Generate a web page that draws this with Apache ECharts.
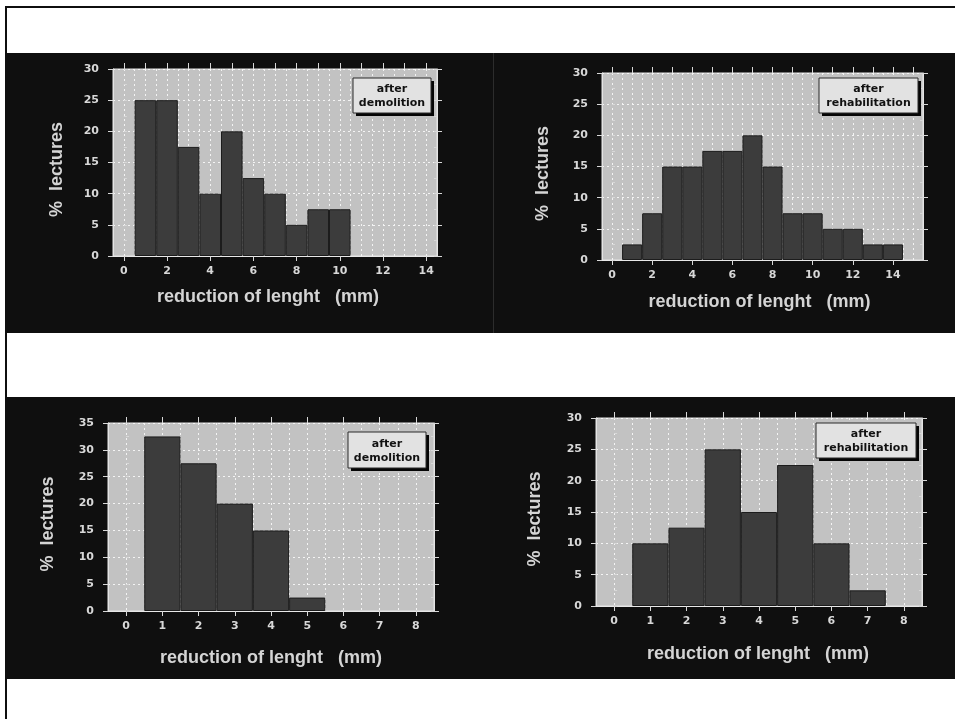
<!DOCTYPE html>
<html>
<head>
<meta charset="utf-8">
<script src="https://cdn.jsdelivr.net/npm/echarts@6/dist/echarts.min.js"></script>
<style>
html, body { margin: 0; padding: 0; background: #fff; }
#page { position: relative; width: 955px; height: 719px; overflow: hidden; }
.blk { position: absolute; background: #0f0f0f; }
#main { position: absolute; left: 0; top: 0; width: 955px; height: 719px; }
</style>
</head>
<body>
<div id="page">
  <div class="blk" style="left:5px;top:6px;width:950px;height:2px;"></div>
  <div class="blk" style="left:5px;top:6px;width:2px;height:713px;"></div>
  <div class="blk" style="left:7px;top:53px;width:948px;height:280px;"></div>
  <div class="blk" style="left:493px;top:53px;width:1px;height:280px;background:#2c2c2c;"></div>
  <div class="blk" style="left:7px;top:397px;width:948px;height:282px;"></div>
  <div id="main"></div>
</div>
<script>
// x tick labels (mm)
var ticksA = ['0','1','2','3','4','5','6','7','8','9','10','11','12','13','14'];
var ticksB = ['0','1','2','3','4','5','6','7','8','9','10','11','12','13','14','15'];
var ticksC = ['0','1','2','3','4','5','6','7','8'];
var ticksD = ['0','1','2','3','4','5','6','7','8'];

// histogram bins (mm) and % of lectures
var binsA = [1, 2, 3, 4, 5, 6, 7, 8, 9, 10];
var demolitionA = [25, 25, 17.5, 10, 20, 12.5, 10, 5, 7.5, 7.5];

var binsB = [1, 2, 3, 4, 5, 6, 7, 8, 9, 10, 11, 12, 13, 14];
var rehabilitationA = [2.5, 7.5, 15, 15, 17.5, 17.5, 20, 15, 7.5, 7.5, 5, 5, 2.5, 2.5];

var binsC = [1, 2, 3, 4, 5];
var demolitionB = [32.5, 27.5, 20, 15, 2.5];

var binsD = [1, 2, 3, 4, 5, 6, 7];
var rehabilitationB = [10, 12.5, 25, 15, 22.5, 10, 2.5];

var chart = echarts.init(document.getElementById('main'));

var panels = [
    {ticks: ticksA, bins: binsA, pct: demolitionA, yMax: 30, tag: 'after\ndemolition', every: 1,
     grid: {left: 113, top: 69, width: 324, height: 187}, box: [353, 78, 78, 35],
     xGap: 32, yGap: 47, xShift: 14},
    {ticks: ticksB, bins: binsB, pct: rehabilitationA, yMax: 30, tag: 'after\nrehabilitation', every: 1,
     grid: {left: 602, top: 73, width: 321, height: 187}, box: [819, 78, 99, 35],
     xGap: 33, yGap: 50, xShift: 6},
    {ticks: ticksC, bins: binsC, pct: demolitionB, yMax: 35, tag: 'after\ndemolition', every: 0,
     grid: {left: 108, top: 423, width: 326, height: 188}, box: [348, 432, 78, 36],
     xGap: 38, yGap: 51, xShift: 0},
    {ticks: ticksD, bins: binsD, pct: rehabilitationB, yMax: 30, tag: 'after\nrehabilitation', every: 0,
     grid: {left: 596, top: 418, width: 326, height: 188}, box: [816, 423, 100, 35],
     xGap: 39, yGap: 52, xShift: 2}
];

var labelFont = {color: '#d8d8d8', fontFamily: 'DejaVu Sans', fontWeight: 'bold', fontSize: 11};
var nameFont = {color: '#d4d4d4', fontFamily: 'Liberation Sans', fontWeight: 'bold', fontSize: 18};
var tickLine = {color: '#d8d8d8', width: 1};
var dotted = {color: '#f4f4f4', width: 1, type: [2, 3]};

var grids = [], xAxes = [], yAxes = [], series = [], graphics = [];

panels.forEach(function (p, i) {
    grids.push({
        left: p.grid.left, top: p.grid.top, width: p.grid.width, height: p.grid.height,
        show: true, backgroundColor: '#c2c2c2', borderColor: '#e4e4e4', borderWidth: 1
    });
    // vertical dotted lines every 0.5 mm
    xAxes.push({
        type: 'value', gridIndex: i, position: 'bottom', min: -0.5, max: p.ticks.length - 0.5, interval: 0.5,
        axisLine: {show: false}, axisTick: {show: false}, axisLabel: {show: false},
        splitLine: {show: true, lineStyle: dotted}
    });
    // bottom axis with labels
    xAxes.push({
        type: 'category', gridIndex: i, position: 'bottom', data: p.ticks, boundaryGap: true,
        axisLine: {show: true, onZero: false, lineStyle: {color: '#e8e8e8', width: 1}},
        axisTick: {show: true, alignWithLabel: true, length: 5, lineStyle: tickLine},
        axisLabel: Object.assign({interval: p.every, margin: 10}, labelFont),
        splitLine: {show: false},
        name: 'reduction of lenght   (mm)', nameLocation: 'middle', nameGap: p.xGap,
        nameTextStyle: Object.assign({padding: [0, p.xShift, 0, 0]}, nameFont)
    });
    // top ticks
    xAxes.push({
        type: 'category', gridIndex: i, position: 'top', data: p.ticks, boundaryGap: true,
        axisLine: {show: false, onZero: false},
        axisTick: {show: true, alignWithLabel: true, length: 6, lineStyle: tickLine},
        axisLabel: {show: false}, splitLine: {show: false}
    });

    yAxes.push({
        type: 'value', gridIndex: i, position: 'left', min: 0, max: p.yMax, interval: 5,
        axisLine: {show: true, onZero: false, lineStyle: {color: '#e4e4e4'}},
        axisTick: {show: true, length: 5, lineStyle: tickLine},
        axisLabel: Object.assign({margin: 14}, labelFont),
        splitLine: {show: true, lineStyle: dotted},
        name: '%  lectures', nameLocation: 'middle', nameGap: p.yGap,
        nameTextStyle: Object.assign({padding: [0, 14, 0, 0]}, nameFont)
    });
    yAxes.push({
        type: 'value', gridIndex: i, position: 'right', min: 0, max: p.yMax, interval: 5,
        axisLine: {show: true, onZero: false, lineStyle: {color: '#e4e4e4'}},
        axisTick: {show: true, length: 5, lineStyle: tickLine},
        axisLabel: {show: false}, splitLine: {show: false}
    });
    // small inner ticks every 2.5
    yAxes.push({
        type: 'value', gridIndex: i, position: 'left', min: 0, max: p.yMax, interval: 2.5,
        axisLine: {show: false}, axisTick: {show: true, inside: true, length: 3, lineStyle: tickLine},
        axisLabel: {show: false}, splitLine: {show: false}
    });
    yAxes.push({
        type: 'value', gridIndex: i, position: 'right', min: 0, max: p.yMax, interval: 2.5,
        axisLine: {show: false}, axisTick: {show: true, inside: true, length: 3, lineStyle: tickLine},
        axisLabel: {show: false}, splitLine: {show: false}
    });

    var data = p.ticks.map(function (t) {
        var k = p.bins.indexOf(Number(t));
        return k < 0 ? '-' : p.pct[k];
    });
    series.push({
        type: 'bar', xAxisIndex: i * 3 + 1, yAxisIndex: i * 4, data: data,
        barWidth: '100%', silent: true,
        itemStyle: {color: '#3c3c3c', borderColor: '#1c1c1c', borderWidth: 1}
    });

    // legend tag box
    var b = p.box;
    graphics.push({type: 'rect', z: 100, shape: {x: b[0] + 3, y: b[1] + 3, width: b[2], height: b[3]},
        style: {fill: '#050505'}});
    graphics.push({type: 'rect', z: 101, shape: {x: b[0], y: b[1], width: b[2], height: b[3]},
        style: {fill: '#e2e2e2', stroke: '#2a2a2a', lineWidth: 1}});
    graphics.push({type: 'text', z: 102, x: b[0] + b[2] / 2, y: b[1] + b[3] / 2 + 1,
        style: {text: p.tag, textAlign: 'center', textVerticalAlign: 'middle',
            font: 'bold 11px "DejaVu Sans"', fill: '#111', lineHeight: 14}});
});

chart.setOption({
    animation: false,
    grid: grids,
    xAxis: xAxes,
    yAxis: yAxes,
    series: series,
    graphic: graphics
});
</script>
</body>
</html>
